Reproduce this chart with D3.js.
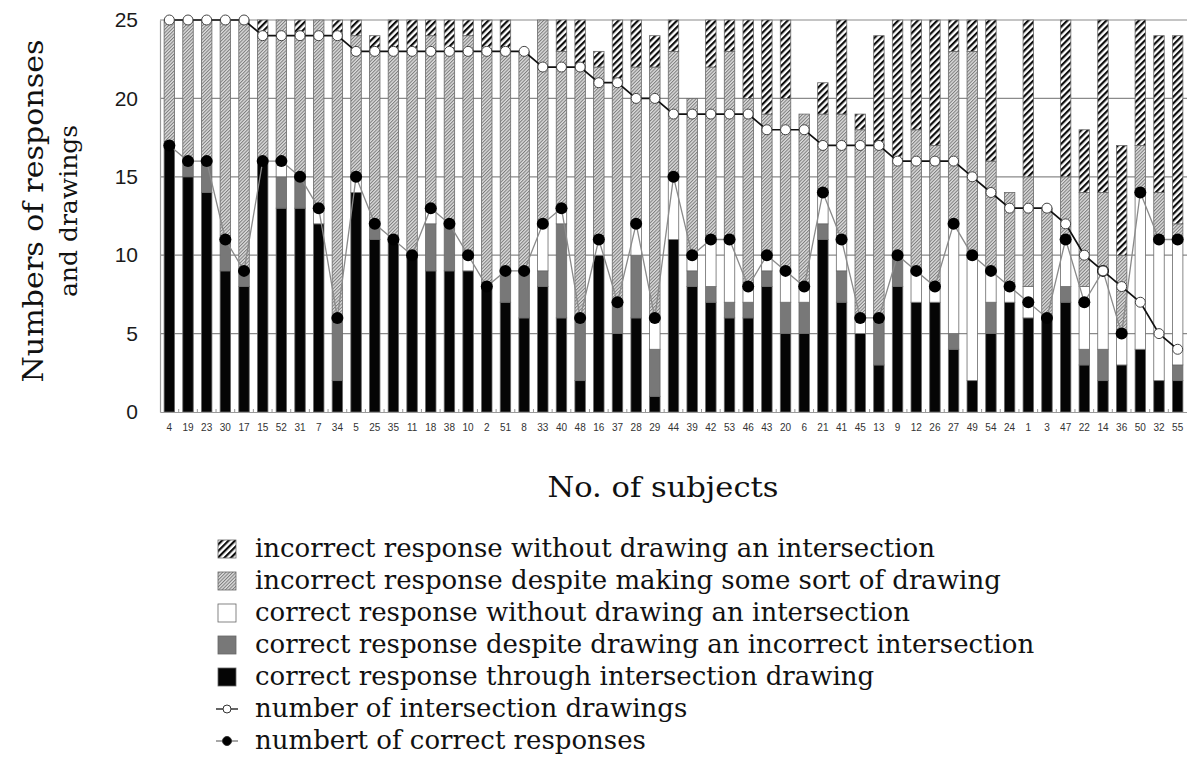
<!DOCTYPE html>
<html>
<head>
<meta charset="utf-8">
<script src="https://cdn.jsdelivr.net/npm/d3@7"></script>
<style>
  html, body { margin: 0; padding: 0; background: #fff; }
  svg { display: block; }
</style>
</head>
<body>
<svg id="chart" width="1187" height="758"></svg>
<script>
// Subjects, ordered by number of intersection drawings
const subjects = [4,19,23,30,17,15,52,31,7,34,5,25,35,11,18,38,10,2,51,8,33,40,48,16,37,28,29,44,39,42,53,46,43,20,6,21,41,45,13,9,12,26,27,49,54,24,1,3,47,22,14,36,50,32,55];

// Stacked response categories (bottom to top)
const correctThroughDrawing   = [17,15,14,9,8,16,13,13,12,2,14,11,11,10,9,9,9,8,7,6,8,6,2,10,5,6,1,11,8,7,6,6,8,5,5,11,7,5,3,8,7,7,4,2,5,7,6,6,7,3,2,3,4,2,2];
const correctDespiteIncorrect = [0,1,2,2,1,0,2,2,0,4,0,1,0,0,3,3,0,0,2,3,1,6,4,0,2,4,3,0,1,1,1,1,1,2,2,1,2,0,3,2,0,0,1,0,2,0,0,0,1,1,2,0,0,0,1];
const correctWithoutDrawing   = [0,0,0,0,0,0,1,0,1,0,1,0,0,0,1,0,1,0,0,0,3,1,0,1,0,2,2,4,1,3,4,1,1,2,1,2,2,1,0,0,2,1,7,8,2,1,2,0,3,4,5,2,10,9,8];
const incorrectWithDrawing    = [8,9,9,14,16,8,9,9,12,18,9,11,12,13,11,11,14,15,14,14,13,10,16,11,14,10,16,8,10,11,12,12,9,11,11,5,8,12,11,6,9,9,11,13,7,6,7,7,4,6,5,5,3,3,1];
const incorrectWithoutDrawing = [0,0,0,0,0,1,0,1,0,1,1,1,2,2,1,2,1,2,2,0,0,2,3,1,4,3,2,2,0,3,2,5,6,5,0,2,6,1,7,9,7,8,2,2,9,0,10,0,10,4,11,7,8,10,12];

// Line series
const intersectionDrawings = [25,25,25,25,25,24,24,24,24,24,23,23,23,23,23,23,23,23,23,23,22,22,22,21,21,20,20,19,19,19,19,19,18,18,18,17,17,17,17,16,16,16,16,15,14,13,13,13,12,10,9,8,7,5,4];
const correctResponses     = [17,16,16,11,9,16,16,15,13,6,15,12,11,10,13,12,10,8,9,9,12,13,6,11,7,12,6,15,10,11,11,8,10,9,8,14,11,6,6,10,9,8,12,10,9,8,7,6,11,7,9,5,14,11,11];

const yTicks = [0,5,10,15,20,25];

const seriesKeys = ["through", "despite", "without", "incorrectDrawing", "incorrectNoDrawing"];
const seriesFill = {
  through: "#050505",
  despite: "#787878",
  without: "#ffffff",
  incorrectDrawing: "url(#lightHatch)",
  incorrectNoDrawing: "url(#darkHatch)"
};
const legendItems = [
  { key: "incorrectNoDrawing", label: "incorrect response without drawing an intersection" },
  { key: "incorrectDrawing",   label: "incorrect response despite making some sort of drawing" },
  { key: "without",            label: "correct response without drawing an intersection" },
  { key: "despite",            label: "correct response despite drawing an incorrect intersection" },
  { key: "through",            label: "correct response through intersection drawing" },
  { line: "drawings",          label: "number of intersection drawings" },
  { line: "correct",           label: "numbert of correct responses" }
];

const rows = subjects.map((s, i) => ({
  subject: String(s),
  through: correctThroughDrawing[i],
  despite: correctDespiteIncorrect[i],
  without: correctWithoutDrawing[i],
  incorrectDrawing: incorrectWithDrawing[i],
  incorrectNoDrawing: incorrectWithoutDrawing[i],
  drawings: intersectionDrawings[i],
  correct: correctResponses[i]
}));

const svg = d3.select("#chart");
const serif = "'DejaVu Serif', 'Liberation Serif', serif";
const sans = "'Liberation Sans', Arial, sans-serif";

// Hatch patterns
const defs = svg.append("defs");
const dark = defs.append("pattern")
  .attr("id", "darkHatch").attr("patternUnits", "userSpaceOnUse")
  .attr("width", 4.6).attr("height", 4.6)
  .attr("patternTransform", "rotate(45)");
dark.append("rect").attr("width", 4.6).attr("height", 4.6).attr("fill", "#fff");
dark.append("rect").attr("width", 2.2).attr("height", 4.6).attr("fill", "#0d0d0d");

const light = defs.append("pattern")
  .attr("id", "lightHatch").attr("patternUnits", "userSpaceOnUse")
  .attr("width", 2.4).attr("height", 2.4)
  .attr("patternTransform", "rotate(45)");
light.append("rect").attr("width", 2.4).attr("height", 2.4).attr("fill", "#dcdcdc");
light.append("rect").attr("width", 1).attr("height", 2.4).attr("fill", "#7c7c7c");

const plot = { left: 160, right: 1187, top: 20, bottom: 412 };

const x = d3.scaleBand()
  .domain(rows.map(d => d.subject))
  .range([plot.left, plot.right])
  .paddingInner(0.44)
  .paddingOuter(0.22);

const y = d3.scaleLinear().domain([0, 25]).range([plot.bottom, plot.top]);

// Horizontal grid lines
svg.append("g")
  .selectAll("line")
  .data(yTicks.filter(t => t > 0))
  .join("line")
  .attr("x1", plot.left).attr("x2", plot.right)
  .attr("y1", d => y(d)).attr("y2", d => y(d))
  .attr("stroke", "#8a8a8a").attr("stroke-width", 1.2);

// Y axis
const yAxis = svg.append("g")
  .attr("transform", `translate(${plot.left},0)`)
  .call(d3.axisLeft(y).tickValues(yTicks).tickSize(0).tickPadding(22));
yAxis.select(".domain").attr("stroke", "#9a9a9a").attr("stroke-width", 1.2);
yAxis.selectAll("text")
  .attr("font-family", sans).attr("font-size", 21).attr("fill", "#1a1a1a");

// Stacked bars
const stacked = d3.stack().keys(seriesKeys)(rows);
svg.append("g")
  .selectAll("g")
  .data(stacked)
  .join("g")
  .attr("fill", d => seriesFill[d.key])
  .selectAll("rect")
  .data(d => d.filter(p => p[1] > p[0]))
  .join("rect")
  .attr("x", p => x(p.data.subject))
  .attr("width", x.bandwidth())
  .attr("y", p => y(p[1]))
  .attr("height", p => y(p[0]) - y(p[1]))
  .attr("stroke", "#6a6a6a")
  .attr("stroke-width", 0.8);

// X axis
const xAxis = svg.append("g")
  .attr("transform", `translate(0,${plot.bottom})`)
  .call(d3.axisBottom(x).tickSize(0).tickPadding(12));
xAxis.select(".domain").attr("stroke", "#9a9a9a").attr("stroke-width", 1.2);
xAxis.selectAll("text")
  .attr("font-family", sans).attr("font-size", 10).attr("fill", "#333");

// Small tick marks between categories
svg.append("g")
  .selectAll("line")
  .data(rows.slice(1))
  .join("line")
  .attr("x1", d => x(d.subject) - x.step() * x.paddingInner() / 2)
  .attr("x2", d => x(d.subject) - x.step() * x.paddingInner() / 2)
  .attr("y1", plot.bottom).attr("y2", plot.bottom - 3)
  .attr("stroke", "#999").attr("stroke-width", 1);

const cx = d => x(d.subject) + x.bandwidth() / 2;

// Correct responses line
svg.append("path")
  .datum(rows)
  .attr("fill", "none")
  .attr("stroke", "#8a8a8a")
  .attr("stroke-width", 1.3)
  .attr("d", d3.line().x(cx).y(d => y(d.correct)));
svg.append("g")
  .selectAll("circle")
  .data(rows)
  .join("circle")
  .attr("cx", cx).attr("cy", d => y(d.correct))
  .attr("r", 6).attr("fill", "#000");

// Intersection drawings line
svg.append("path")
  .datum(rows)
  .attr("fill", "none")
  .attr("stroke", "#111")
  .attr("stroke-width", 1.7)
  .attr("d", d3.line().x(cx).y(d => y(d.drawings)));
svg.append("g")
  .selectAll("circle")
  .data(rows)
  .join("circle")
  .attr("cx", cx).attr("cy", d => y(d.drawings))
  .attr("r", 5).attr("fill", "#fff")
  .attr("stroke", "#444").attr("stroke-width", 1);

// Axis titles
const yTitle = svg.append("text")
  .attr("transform", "translate(43,211) rotate(-90)")
  .attr("text-anchor", "middle")
  .attr("font-family", serif).attr("fill", "#111");
yTitle.append("tspan").attr("x", 0).attr("dy", 0)
  .attr("font-size", 27)
  .attr("textLength", 343).attr("lengthAdjust", "spacingAndGlyphs")
  .text("Numbers of responses");
yTitle.append("tspan").attr("x", 0).attr("dy", 34)
  .attr("font-size", 25)
  .text("and drawings");

svg.append("text")
  .attr("x", 663).attr("y", 497)
  .attr("text-anchor", "middle")
  .attr("font-family", serif).attr("font-size", 27).attr("fill", "#111")
  .attr("textLength", 231).attr("lengthAdjust", "spacingAndGlyphs")
  .text("No. of subjects");

// Legend
const legend = svg.append("g");
const rowY = i => 549 + i * 32;
legendItems.forEach((item, i) => {
  const cy = rowY(i);
  if (item.key) {
    legend.append("rect")
      .attr("x", 218).attr("y", cy - 9)
      .attr("width", 18).attr("height", 18)
      .attr("fill", seriesFill[item.key])
      .attr("stroke", "#666").attr("stroke-width", 0.8);
  } else {
    legend.append("line")
      .attr("x1", 216).attr("x2", 238).attr("y1", cy).attr("y2", cy)
      .attr("stroke", item.line === "drawings" ? "#111" : "#777")
      .attr("stroke-width", 1.3);
    legend.append("circle")
      .attr("cx", 227).attr("cy", cy)
      .attr("r", item.line === "drawings" ? 4 : 4.5)
      .attr("fill", item.line === "drawings" ? "#fff" : "#000")
      .attr("stroke", "#333").attr("stroke-width", 1);
  }
  legend.append("text")
    .attr("x", 255).attr("y", cy).attr("dy", "0.32em")
    .attr("font-family", serif).attr("font-size", 26).attr("fill", "#111")
    .text(item.label);
});
</script>
</body>
</html>
